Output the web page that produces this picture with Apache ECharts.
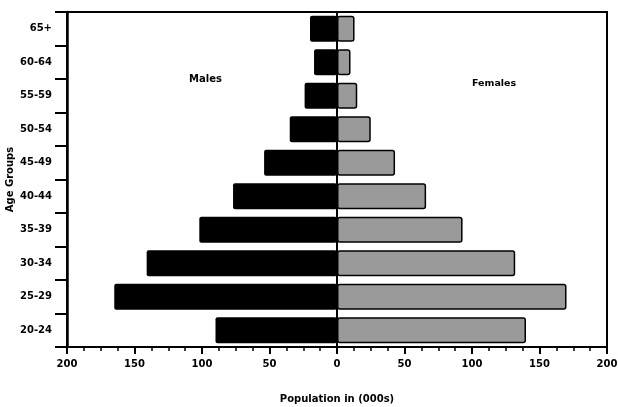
<!DOCTYPE html>
<html>
<head>
<meta charset="utf-8">
<script src="https://cdn.jsdelivr.net/npm/echarts@6/dist/echarts.min.js"></script>
<style>html,body{margin:0;padding:0;background:#fff}#c{width:618px;height:407px}</style>
</head>
<body>
<div id="c"></div>
<script>
const ageGroups = ['20-24','25-29','30-34','35-39','40-44','45-49','50-54','55-59','60-64','65+'];
const males =   [90, 165, 141, 102, 77, 54, 35, 24, 17, 20];
const females = [140, 170, 132, 93, 66, 43, 25, 15, 10, 13];
const xTicks = [-200, -150, -100, -50, 0, 50, 100, 150, 200];

const FONT = 'DejaVu Sans';
const chart = echarts.init(document.getElementById('c'), null, {renderer: 'canvas'});
chart.setOption({
  animation: false,
  backgroundColor: '#fff',
  grid: {left: 67, right: 11, top: 12, bottom: 60, show: true, borderColor: '#000', borderWidth: 2,
    containLabel: false, outerBoundsMode: 'none'},
  xAxis: {
    type: 'value', min: xTicks[0], max: xTicks[xTicks.length - 1], interval: 50,
    name: 'Population in (000s)', nameLocation: 'middle', nameGap: 47, nameMoveOverlap: false,
    nameTextStyle: {fontFamily: FONT, fontWeight: 'bold', fontSize: 10, color: '#000'},
    axisLine: {lineStyle: {color: '#000', width: 2.5}},
    axisTick: {show: true, length: 7, lineStyle: {color: '#000', width: 2}},
    minorTick: {show: true, splitNumber: 4, length: 4, lineStyle: {color: '#000', width: 1.5}},
    splitLine: {show: false},
    axisLabel: {fontFamily: FONT, fontWeight: 'bold', fontSize: 10, color: '#000', margin: 12,
      formatter: v => String(Math.abs(v))}
  },
  yAxis: {
    type: 'category', data: ageGroups,
    name: 'Age Groups', nameLocation: 'middle', nameGap: 52, nameMoveOverlap: false,
    nameTextStyle: {fontFamily: FONT, fontWeight: 'bold', fontSize: 10, color: '#000'},
    axisLine: {onZero: false, lineStyle: {color: '#000', width: 2.5}},
    axisTick: {show: true, length: 12, lineStyle: {color: '#000', width: 2}},
    axisLabel: {fontFamily: FONT, fontWeight: 'bold', fontSize: 10, color: '#000', margin: 15}
  },
  series: [
    {
      name: 'Males', type: 'bar', stack: 'pop', barCategoryGap: '22%',
      data: males.map(v => -v),
      itemStyle: {color: '#000', borderRadius: 2},
      markLine: {silent: true, symbol: 'none', label: {show: false},
        lineStyle: {color: '#000', width: 2, type: 'solid'}, data: [{xAxis: 0}]}
    },
    {
      name: 'Females', type: 'bar', stack: 'pop', barCategoryGap: '22%',
      data: females,
      itemStyle: {color: '#9a9a9a', borderColor: '#000', borderWidth: 1.5, borderRadius: 2}
    }
  ],
  graphic: [
    {type: 'text', left: 189, top: 74, style: {text: 'Males', font: 'bold 10px "DejaVu Sans"', fill: '#000'}},
    {type: 'text', left: 472, top: 79, style: {text: 'Females', font: 'bold 9.5px "DejaVu Sans"', fill: '#000'}}
  ]
});
</script>
</body>
</html>
